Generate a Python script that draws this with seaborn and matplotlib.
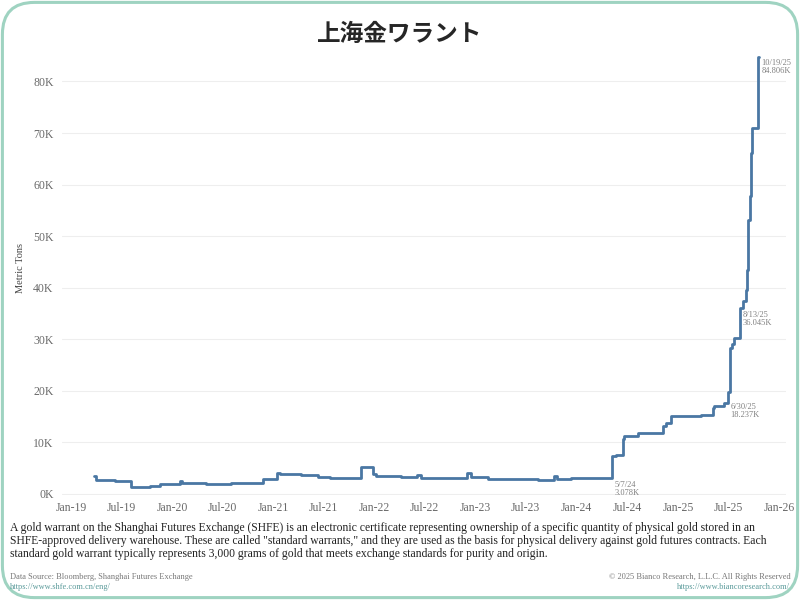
import matplotlib
matplotlib.use("Agg")
import matplotlib.pyplot as plt
import matplotlib.dates as mdates
from matplotlib.patches import FancyBboxPatch
from matplotlib.ticker import FuncFormatter
import pandas as pd
import seaborn as sns

# step points (value in metric tons)
dates = ["2019-03-25", "2019-04-01", "2019-06-09", "2019-08-05", "2019-10-13",
         "2019-11-18", "2020-01-30", "2020-02-03", "2020-05-01", "2020-07-29",
         "2020-11-22", "2021-01-13", "2021-01-22", "2021-04-09", "2021-06-09",
         "2021-07-25", "2021-11-11", "2021-12-25", "2022-01-05", "2022-04-06",
         "2022-06-02", "2022-06-17", "2022-08-09", "2022-12-02", "2022-12-14",
         "2023-02-15", "2023-08-13", "2023-10-10", "2023-10-20", "2023-12-10",
         "2024-05-07", "2024-05-08", "2024-05-20", "2024-06-16", "2024-06-20",
         "2024-08-08", "2024-11-06", "2024-11-17", "2024-12-05", "2025-03-25",
         "2025-05-08", "2025-05-12", "2025-06-17", "2025-06-30", "2025-07-02",
         "2025-07-06", "2025-07-15", "2025-07-22", "2025-08-13", "2025-08-22",
         "2025-08-25", "2025-09-02", "2025-09-08", "2025-09-12", "2025-09-17",
         "2025-09-22", "2025-09-25", "2025-10-17", "2025-10-19"]
values = [3450, 2700, 2500, 1400, 1600,
          1850, 2500, 2200, 2000, 2200,
          2900, 4000, 3900, 3600, 3200,
          3100, 5200, 3900, 3400, 3200,
          3600, 3100, 3000, 4100, 3350,
          2850, 2700, 3400, 2850, 3060,
          3078, 7300, 7650, 10600, 11200,
          11900, 13100, 13800, 15100, 15400,
          16700, 17100, 17700, 18237, 19700,
          28400, 29000, 30300, 36045, 36400,
          37400, 39600, 43500, 53200, 57700,
          66200, 71000, 84806, 84806]

callouts = [("2024-05-07", 3078, "5/7/24\n3.078K"),
            ("2025-06-30", 18237, "6/30/25\n18.237K"),
            ("2025-08-13", 36045, "8/13/25\n36.045K"),
            ("2025-10-19", 84806, "10/19/25\n84.806K")]

title = "上海金ワラント"
note = ("A gold warrant on the Shanghai Futures Exchange (SHFE) is an electronic certificate representing ownership of a specific quantity of physical gold stored in an\n"
        "SHFE-approved delivery warehouse. These are called \"standard warrants,\" and they are used as the basis for physical delivery against gold futures contracts. Each\n"
        "standard gold warrant typically represents 3,000 grams of gold that meets exchange standards for purity and origin.")

df = pd.DataFrame({"date": pd.to_datetime(dates), "value": values})

sns.set_theme(style="white")
plt.rcParams["font.family"] = ["Liberation Serif", "DejaVu Serif"]

fig = plt.figure(figsize=(8, 6), dpi=100)
ax = fig.add_axes([0.0775, 0.175, 0.905, 0.758])

sns.lineplot(data=df, x="date", y="value", drawstyle="steps-post",
             color="#4a77a3", linewidth=2.0, ax=ax)

for d, v, lab in callouts:
    ax.annotate(lab, (pd.Timestamp(d), v), xytext=(2, -2), textcoords="offset points",
                fontsize=6, color="#808080", va="top", ha="left", linespacing=1.0)

ax.set_xlim(pd.Timestamp("2018-11-28"), pd.Timestamp("2026-01-26"))
ax.set_ylim(-200, 88000)
ax.set_yticks(range(0, 80001, 10000))
ax.yaxis.set_major_formatter(FuncFormatter(lambda v, p: f"{int(v/1000)}K"))
ax.xaxis.set_major_locator(mdates.MonthLocator(bymonth=[1, 7]))
ax.xaxis.set_major_formatter(mdates.DateFormatter("%b-%y"))
ax.tick_params(axis="both", length=0, labelsize=8.5, colors="#6a6a6a")
ax.tick_params(axis="x", pad=5)
ax.tick_params(axis="y", pad=6)
ax.grid(axis="y", color="#eeeeee", linewidth=0.8)
ax.grid(axis="x", visible=False)
for s in ax.spines.values():
    s.set_visible(False)
ax.set_xlabel("")
ax.set_ylabel("Metric Tons", fontsize=7.5, color="#444444", labelpad=6)

fig.text(0.5, 0.943, title, ha="center", va="center", fontsize=17, fontweight="bold",
         family=["Noto Sans CJK JP", "DejaVu Sans"])
fig.text(0.0125, 0.130, note, ha="left", va="top", fontsize=8.4, color="#222222",
         linespacing=1.12)
fig.text(0.0125, 0.038, "Data Source: Bloomberg, Shanghai Futures Exchange",
         fontsize=6, color="#777777", va="center")
fig.text(0.0125, 0.021, "https://www.shfe.com.cn/eng/",
         fontsize=6, color="#5a9a9a", va="center")
fig.text(0.988, 0.038, "© 2025 Bianco Research, L.L.C. All Rights Reserved",
         fontsize=6, color="#777777", va="center", ha="right")
fig.text(0.988, 0.021, "https://www.biancoresearch.com/",
         fontsize=6, color="#5a9a9a", va="center", ha="right")

fig.patches.append(FancyBboxPatch((0.003, 0.004), 0.994, 0.992,
                                  boxstyle="round,pad=0,rounding_size=0.04",
                                  mutation_aspect=1.333, transform=fig.transFigure,
                                  fill=False, edgecolor="#9fd3c1", linewidth=2.2))

fig.savefig("out.png", dpi=100)
